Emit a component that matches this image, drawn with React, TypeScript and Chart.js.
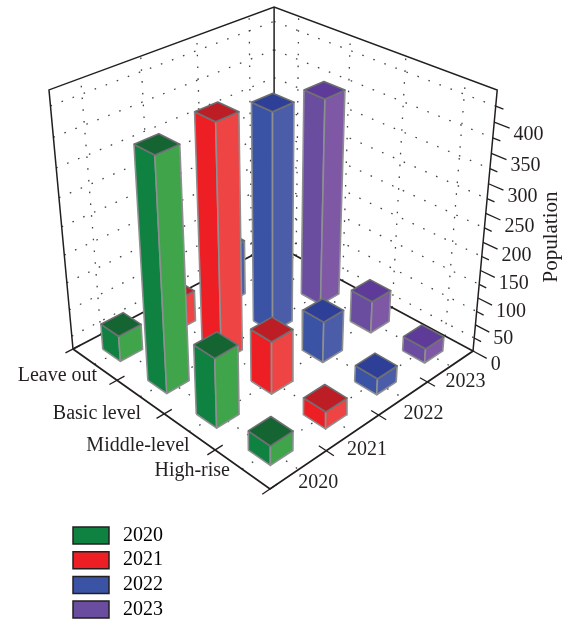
import React, { useEffect, useRef } from "react";
import { Chart, registerables } from "chart.js";

Chart.register(...registerables);

// Row and column names of the 3D bar grid.
const levels = ["Leave out", "Basic level", "Middle-level", "High-rise"];
const years = ["2020", "2021", "2022", "2023"];

// Population per education level, one list per year.
const values2020 = [48, 405, 125, 35];
const values2021 = [58, 416, 96, 31];
const values2022 = [104, 393, 76, 30];
const values2023 = [80, 376, 60, 27];
const seriesValues = [values2020, values2021, values2022, values2023];

const populationTicks = [0, 50, 100, 150, 200, 250, 300, 350, 400];
const populationMinorTicks = [25, 75, 125, 175, 225, 275, 325, 375, 425];
const populationMax = 450;

// Side, front and top face colours for each year.
const sideColors = ["#0f8140", "#ed1f24", "#3a53a4", "#6a4d9f"];
const frontColors = ["#40a44b", "#ef4444", "#4b5ca8", "#7e58a5"];
const topColors = ["#156533", "#bd1e26", "#2e3f98", "#5e3b98"];

const INK = "#231f20";
const FONT = "Liberation Serif";
const WIDTH = 565;
const HEIGHT = 622;

// Perspective camera: floor corners in view space, plus the point where verticals converge.
const floorA = [73, 349];
const floorB = [270, 489];
const floorC = [473, 351];
const floorD = [274, 244];
const verticalVanish = [273, 2507];
const verticalStrength = -0.1072;

function makeProjection() {
  const [x0, y0] = floorA;
  const [x1, y1] = floorB;
  const [x2, y2] = floorC;
  const [x3, y3] = floorD;
  const dx1 = x1 - x2;
  const dx2 = x3 - x2;
  const sx = x0 - x1 + x2 - x3;
  const dy1 = y1 - y2;
  const dy2 = y3 - y2;
  const sy = y0 - y1 + y2 - y3;
  const den = dx1 * dy2 - dx2 * dy1;
  const g = (sx * dy2 - dx2 * sy) / den;
  const h = (dx1 * sy - sx * dy1) / den;
  const a = x1 - x0 + g * x1;
  const b = x3 - x0 + h * x3;
  const d = y1 - y0 + g * y1;
  const e = y3 - y0 + h * y3;
  const k = verticalStrength;
  return (u: number, v: number, z: number) => {
    const t = z / populationMax;
    const w = g * u + h * v + 1 + k * t;
    return {
      x: (a * u + b * v + x0 + k * verticalVanish[0] * t) / w,
      y: (d * u + e * v + y0 + k * verticalVanish[1] * t) / w,
    };
  };
}
const project = makeProjection();

const cellCenters = [0.125, 0.375, 0.625, 0.875];
const HALF_BAR = 0.05;

function polyline(points: number[][], style: Record<string, unknown>) {
  return {
    type: "scatter",
    data: points.map(([u, v, z]) => project(u, v, z)),
    showLine: true,
    pointRadius: 0,
    tension: 0,
    clip: false,
    ...style,
  };
}

function buildDatasets() {
  const backToFront: any[] = [];

  // Dotted grid through the cell centres and the odd minor ticks.
  const dots = { borderColor: "#444444", borderWidth: 1.3, borderDash: [1.6, 10.2], fill: false };
  for (const z of populationMinorTicks) {
    backToFront.push(polyline([[0, 0, z], [0, 1, z]], dots));
    backToFront.push(polyline([[0, 1, z], [1, 1, z]], dots));
  }
  for (const c of cellCenters) {
    backToFront.push(polyline([[0, c, 0], [0, c, populationMax]], dots));
    backToFront.push(polyline([[c, 1, 0], [c, 1, populationMax]], dots));
    backToFront.push(polyline([[c, 0, 0], [c, 1, 0]], dots));
    backToFront.push(polyline([[0, c, 0], [1, c, 0]], dots));
  }

  // Box frame and axes.
  const wall = { borderColor: INK, borderWidth: 1.5, fill: false };
  const floor = { borderColor: INK, borderWidth: 1.8, fill: false };
  backToFront.push(polyline([[0, 0, 0], [0, 0, populationMax], [0, 1, populationMax], [1, 1, populationMax], [1, 1, 0]], wall));
  backToFront.push(polyline([[0, 1, 0], [0, 1, populationMax]], wall));
  backToFront.push(polyline([[0, 0, 0], [0, 1, 0], [1, 1, 0], [1, 0, 0], [0, 0, 0]], floor));

  // Axis tick marks.
  const tick = { borderColor: INK, borderWidth: 1.3, fill: false };
  for (const u of [0, 0.25, 0.5, 0.75, 1]) {
    backToFront.push(polyline([[u, -0.033, 0], [u, 0.033, 0]], tick));
  }
  for (const v of [0.25, 0.5, 0.75]) {
    backToFront.push(polyline([[0.967, v, 0], [1.033, v, 0]], tick));
  }
  for (const z of populationTicks) {
    backToFront.push(polyline([[1, 1, z], [1.06, 1, z]], tick));
  }
  for (const z of populationMinorTicks) {
    backToFront.push(polyline([[1, 1, z], [1.03, 1, z]], tick));
  }

  // Bars, painted from the far corner of the floor towards the viewer.
  const cells: { level: number; year: number }[] = [];
  levels.forEach((_, level) => years.forEach((__, year) => cells.push({ level, year })));
  cells.sort(
    (p, q) => cellCenters[p.level] - cellCenters[p.year] - (cellCenters[q.level] - cellCenters[q.year]),
  );
  for (const { level, year } of cells) {
    const z = seriesValues[year][level];
    const u0 = cellCenters[level] - HALF_BAR;
    const u1 = cellCenters[level] + HALF_BAR;
    const v0 = cellCenters[year] - HALF_BAR;
    const v1 = cellCenters[year] + HALF_BAR;
    const edge = { fill: "shape", borderWidth: 1.6, borderJoinStyle: "round" };
    backToFront.push(
      polyline([[u0, v0, 0], [u1, v0, 0], [u1, v0, z], [u0, v0, z], [u0, v0, 0]], {
        ...edge, backgroundColor: sideColors[year], borderColor: "#8d8f91",
      }),
    );
    backToFront.push(
      polyline([[u1, v0, 0], [u1, v1, 0], [u1, v1, z], [u1, v0, z], [u1, v0, 0]], {
        ...edge, backgroundColor: frontColors[year], borderColor: "#8d8f91",
      }),
    );
    backToFront.push(
      polyline([[u0, v0, z], [u1, v0, z], [u1, v1, z], [u0, v1, z], [u0, v0, z]], {
        ...edge, backgroundColor: topColors[year], borderColor: "#6d6e71",
      }),
    );
  }
  // Chart.js paints the first dataset last.
  return backToFront.reverse();
}

// Nudges for the axis captions relative to their place on the axis.
const levelLabelNudge = [[2.5, 11], [1, 17], [0.5, 14], [-12, 2]];
const yearLabelNudge = [[-0.5, 13], [-6, 17], [0, 15], [-5, 16]];

const axisText = {
  id: "axisText",
  afterDatasetsDraw(chart: any) {
    const { ctx, scales } = chart;
    const px = (p: { x: number; y: number }) => ({
      x: scales.x.getPixelForValue(p.x),
      y: scales.y.getPixelForValue(p.y),
    });
    ctx.save();
    ctx.fillStyle = INK;
    ctx.font = `20px "${FONT}"`;
    ctx.textBaseline = "middle";

    ctx.textAlign = "right";
    levels.forEach((name, i) => {
      const at = px(project(cellCenters[i], 0, 0));
      ctx.fillText(name, at.x + levelLabelNudge[i][0], at.y + levelLabelNudge[i][1]);
    });

    ctx.textAlign = "left";
    years.forEach((name, i) => {
      const at = px(project(1, cellCenters[i], 0));
      ctx.fillText(name, at.x + yearLabelNudge[i][0], at.y + yearLabelNudge[i][1]);
    });
    populationTicks.forEach((value) => {
      const at = px(project(1.06, 1, value));
      ctx.fillText(String(value), at.x + 4, at.y + 6.5);
    });

    ctx.font = `21px "${FONT}"`;
    ctx.translate(551, 237);
    ctx.rotate(-Math.PI / 2);
    ctx.textAlign = "center";
    ctx.fillText("Population", 0, 0);
    ctx.restore();
  },
};

// Places the legend block under the plot.
const legendPlacement = {
  id: "legendPlacement",
  afterLayout(chart: any) {
    const legend = chart.legend;
    const padding = 4.7;
    legend.left = 73 - padding;
    legend.right = 163;
    legend.top = 525.5 - padding;
    legend.bottom = HEIGHT + 40;
  },
};

export default function App() {
  const canvasRef = useRef<HTMLCanvasElement | null>(null);

  useEffect(() => {
    const chart = new Chart(canvasRef.current as HTMLCanvasElement, {
      type: "scatter",
      data: { datasets: buildDatasets() as any },
      plugins: [axisText, legendPlacement],
      options: {
        animation: false,
        responsive: false,
        layout: { padding: 0 },
        scales: {
          x: { type: "linear", min: 0, max: WIDTH, display: false },
          y: { type: "linear", min: 0, max: HEIGHT, reverse: true, display: false },
        },
        plugins: {
          tooltip: { enabled: false },
          legend: {
            position: "chartArea" as any,
            align: "start",
            onClick: () => {},
            labels: {
              boxWidth: 36,
              boxHeight: 17,
              padding: 4.7,
              color: INK,
              textAlign: "right",
              font: { family: FONT, size: 20 },
              generateLabels: () =>
                years.map((text, i) => ({
                  text,
                  fillStyle: sideColors[i],
                  strokeStyle: INK,
                  lineWidth: 1.5,
                  hidden: false,
                  textAlign: "right",
                })) as any,
            },
          },
        },
      },
    });
    return () => chart.destroy();
  }, []);

  return (
    <div style={{ position: "fixed", left: 0, top: 0, width: WIDTH, height: HEIGHT, background: "#fff" }}>
      <canvas ref={canvasRef} width={WIDTH} height={HEIGHT} style={{ display: "block" }} />
    </div>
  );
}
